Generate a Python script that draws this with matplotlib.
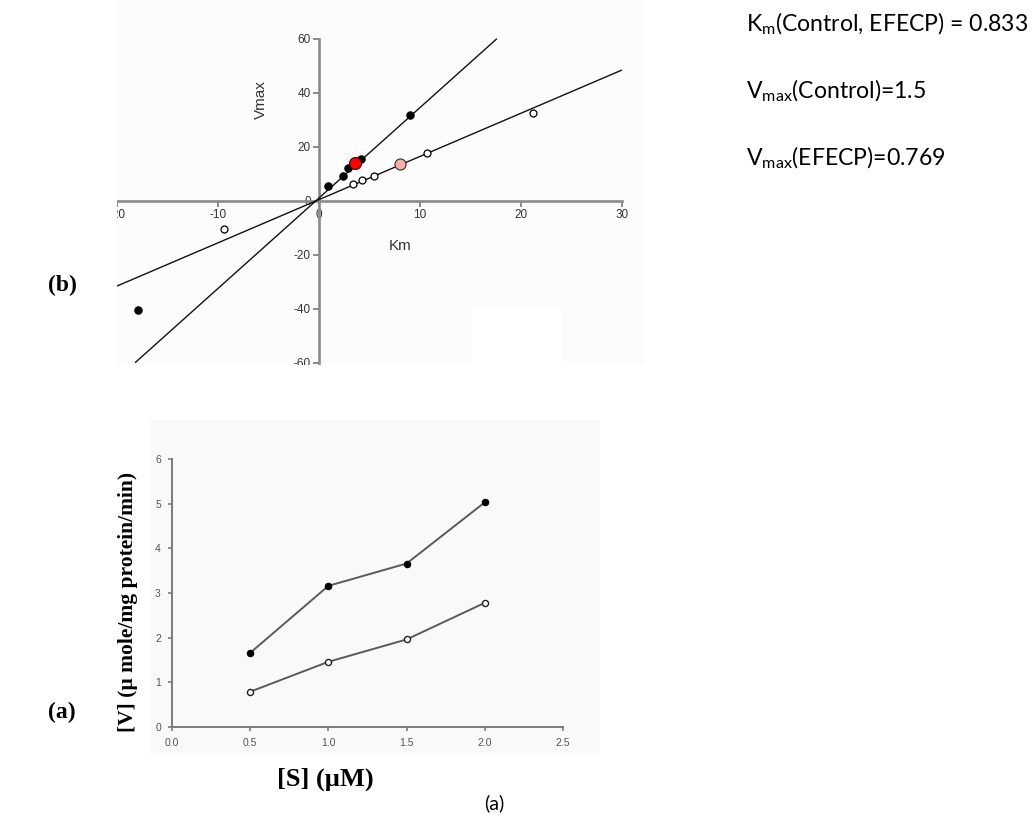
import matplotlib
matplotlib.use("Agg")
import matplotlib.pyplot as plt
from matplotlib.patches import Rectangle

plt.rcParams["font.family"] = ["Liberation Sans", "DejaVu Sans"]
plt.rcParams["axes.unicode_minus"] = False
plt.rcParams["mathtext.default"] = "regular"

# ---- (b) direct linear plot: Vmax against Km ----
control_km = [0.9, 2.35, 2.9, 4.2, 9.0, -17.9]
control_vmax = [5.4, 9.1, 12.0, 15.6, 31.7, -40.5]
efecp_km = [3.4, 4.3, 5.4, 10.7, 21.2, -9.4]
efecp_vmax = [6.1, 7.7, 9.1, 17.8, 32.6, -10.4]
control_median = (3.55, 14.1)
efecp_median = (8.05, 13.5)
fit_slopes = [3.35, 1.6]
fit_intercepts = [1.0, 0.4]
b_xticks = [-20, -10, 0, 10, 20, 30]
b_yticks = [-60, -40, -20, 0, 20, 40, 60]

# ---- (a) velocity against substrate concentration ----
substrate = [0.5, 1.0, 1.5, 2.0]
velocity_control = [1.66, 3.16, 3.66, 5.03]
velocity_efecp = [0.79, 1.46, 1.96, 2.78]
a_xticks = [0.0, 0.5, 1.0, 1.5, 2.0, 2.5]
a_yticks = [0, 1, 2, 3, 4, 5, 6]

kinetic_notes = [
    "K$_m$(Control, EFECP) = 0.833",
    "V$_{max}$(Control)=1.5",
    "V$_{max}$(EFECP)=0.769",
]

W, H = 1036, 815
fig = plt.figure(figsize=(W / 100, H / 100), dpi=100)
fig.patch.set_facecolor("white")


def fx(px):
    return px / W


def fy(py):
    return 1 - py / H


def box(left, top, right, bottom):
    return [fx(left), fy(bottom), (right - left) / W, (bottom - top) / H]


# ---------------- panel (b) ----------------
b_left, b_top, b_right, b_bottom = 117, 0, 645, 365
x0_px, x_scale = 319.0, 10.1      # pixel of Km = 0, pixels per unit
y0_px, y_scale = 200.7, 2.7       # pixel of Vmax = 0, pixels per unit

ax_b = fig.add_axes(box(b_left, b_top, b_right, b_bottom))
ax_b.set_xlim((b_left - x0_px) / x_scale, (b_right - x0_px) / x_scale)
ax_b.set_ylim(-(b_bottom - y0_px) / y_scale, (y0_px - b_top) / y_scale)
ax_b.set_facecolor("#fcfcfc")
for side in ("top", "right"):
    ax_b.spines[side].set_visible(False)
ax_b.spines["left"].set_position(("data", 0))
ax_b.spines["bottom"].set_position(("data", 0))
ax_b.spines["left"].set_bounds(b_yticks[0], b_yticks[-1])
ax_b.spines["bottom"].set_bounds(b_xticks[0], b_xticks[-1])
for side in ("left", "bottom"):
    ax_b.spines[side].set_color("#8a8a8a")
    ax_b.spines[side].set_linewidth(1.9)
ax_b.set_xticks(b_xticks)
ax_b.set_yticks(b_yticks)
ax_b.tick_params(direction="out", length=4, width=1.4, color="#8a8a8a",
                 labelsize=8.5, labelcolor="#333333", pad=2)

# a clean white patch in the lower right of the panel
ax_b.add_patch(Rectangle((fx(472), fy(365)), 90 / W, 56 / H,
                         transform=fig.transFigure, facecolor="white",
                         edgecolor="none", zorder=0.5))

# fitted lines, drawn across the Km range and stopped at the Vmax limits
for m, c in zip(fit_slopes, fit_intercepts):
    lo = max(b_xticks[0], (b_yticks[0] - c) / m)
    hi = min(b_xticks[-1], (b_yticks[-1] - c) / m)
    ax_b.plot([lo, hi], [m * lo + c, m * hi + c], color="#111111", lw=1.0,
              zorder=3, solid_capstyle="butt")

ax_b.plot(control_km, control_vmax, "o", ms=5.3, mfc="black", mec="black",
          mew=0.8, zorder=4)
ax_b.plot(efecp_km, efecp_vmax, "o", ms=5.0, mfc="white", mec="black",
          mew=0.9, zorder=4)
ax_b.plot(*control_median, "o", ms=8.6, mfc="#ff0000", mec="#400000",
          mew=0.8, zorder=5)
ax_b.plot(*efecp_median, "o", ms=8.0, mfc="#f4b3aa", mec="#3a2a2a",
          mew=0.8, zorder=5)

fig.text(fx(261), fy(100), "Vmax", rotation=90, fontsize=11,
         color="#333333", ha="center", va="center")
fig.text(fx(400), fy(246), "Km", fontsize=11, color="#333333",
         ha="center", va="center")

# panel (b) is cut off on its left and bottom edges
fig.add_artist(Rectangle((0, fy(380)), fx(b_left), 380 / H,
                         transform=fig.transFigure, facecolor="white",
                         edgecolor="none", zorder=3))
fig.add_artist(Rectangle((fx(100), fy(419)), 620 / W, (419 - b_bottom) / H,
                         transform=fig.transFigure, facecolor="white",
                         edgecolor="none", zorder=3))

# ---------------- panel (a) ----------------
fig.add_artist(Rectangle((fx(150), fy(753)), 450 / W, (753 - 420) / H,
                         transform=fig.transFigure, facecolor="#f9f9f9",
                         edgecolor="none", zorder=-1))

ax_a = fig.add_axes(box(172, 459, 563, 727))
ax_a.set_xlim(a_xticks[0], a_xticks[-1])
ax_a.set_ylim(a_yticks[0], a_yticks[-1])
ax_a.set_facecolor("none")
for side in ("top", "right"):
    ax_a.spines[side].set_visible(False)
for side in ("left", "bottom"):
    ax_a.spines[side].set_color("#7a7a7a")
    ax_a.spines[side].set_linewidth(1.4)
ax_a.set_xticks(a_xticks)
ax_a.set_xticklabels([f"{v:.1f}" for v in a_xticks])
ax_a.set_yticks(a_yticks)
ax_a.tick_params(direction="out", length=3, width=1.2, color="#7a7a7a",
                 labelsize=7.5, labelcolor="#555555", pad=5)

ax_a.plot(substrate, velocity_control, "-o", color="#5a5a5a", lw=1.4,
          ms=4.6, mfc="black", mec="black", mew=0.8, clip_on=False)
ax_a.plot(substrate, velocity_efecp, "-o", color="#5a5a5a", lw=1.4,
          ms=4.4, mfc="white", mec="#222222", mew=1.0, clip_on=False)

serif = ["Liberation Serif", "DejaVu Serif"]
fig.text(fx(128), fy(602), "[V] (\u00b5 mole/mg protein/min)", rotation=90,
         fontsize=15.5, fontweight="bold", family=serif,
         ha="center", va="center")
fig.text(fx(325), fy(779), "[S] (\u00b5M)", fontsize=19, fontweight="bold",
         family=serif, ha="center", va="center")
fig.text(fx(494), fy(803), "(a)", fontsize=14, family=["Lato", "DejaVu Sans"],
         ha="center", va="center")

# panel letters
fig.text(fx(62), fy(285), "(b)", fontsize=17, fontweight="bold",
         family=serif, ha="center", va="center", zorder=4)
fig.text(fx(62), fy(712), "(a)", fontsize=17, fontweight="bold",
         family=serif, ha="center", va="center", zorder=4)

# kinetic constants
for note, base in zip(kinetic_notes, [31.5, 98.5, 165.0]):
    fig.text(fx(745.7), fy(base), note, fontsize=16.6,
             family=["Lato", "DejaVu Sans"], ha="left", va="baseline")

fig.savefig("out.png", dpi=100, facecolor="white")
